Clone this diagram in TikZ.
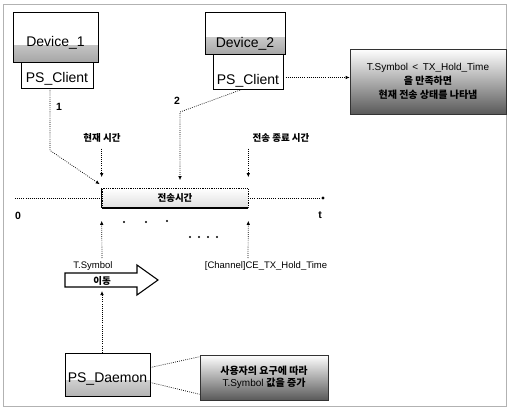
\documentclass[tikz,border=0pt]{standalone}
\usepackage{fontspec}
\setmainfont{Liberation Sans}
\newfontfamily\cjk{Noto Sans CJK KR}
\usetikzlibrary{arrows.meta,calc}
\begin{document}
\begin{tikzpicture}[x=1pt,y=-1pt,
  box/.style={draw=black,line width=0.8pt,fill=white,inner sep=0pt,
    font=\fontsize{14}{16}\selectfont,text depth=0pt},
  botshade/.style={path picture={\shade[top color=white,bottom color=#1]
    ([yshift=16pt]path picture bounding box.south west) rectangle (path picture bounding box.south east);}},
  noteshade/.style={path picture={\shade[top color=white,bottom color=black!65]
    (path picture bounding box.north west) rectangle (path picture bounding box.south east);}},
  notebox/.style={draw=black!80,line width=0.6pt,fill=white,align=center,inner sep=0pt},
  conn/.style={line width=0.7pt,dash pattern=on 0.8pt off 1.3pt,-{Latex[length=4pt,width=3.5pt]}},
  dline/.style={line width=0.7pt,dash pattern=on 0.8pt off 1.3pt},
  lbl/.style={inner sep=0pt,font=\fontsize{9.5}{11}\selectfont},
  num/.style={inner sep=0pt,font=\fontsize{10.5}{12}\selectfont\bfseries},
  krl/.style={inner sep=0pt,font=\fontsize{9.5}{11}\selectfont\cjk\bfseries}]
\useasboundingbox (0,0) rectangle (509,409);
\draw[gray!60,line width=0.8pt] (3,4) rectangle (506,406);

% devices
\node[box,botshade=gray!70,minimum width=85pt,minimum height=50pt,text height=20pt] (dev1) at (55.5,37) {Device\_1};
\node[box,minimum width=72pt,minimum height=26pt,text height=16pt] (pc1) at (57,75) {PS\_Client};
\node[box,botshade=gray!70,minimum width=80pt,minimum height=42pt,text height=30pt] (dev2) at (245,33) {Device\_2};
\node[box,minimum width=70pt,minimum height=35pt,text height=27pt] (pc2) at (248,71.5) {PS\_Client};

% note 1
\node[notebox,noteshade,minimum width=156pt,minimum height=65pt,font=\fontsize{10}{14}\selectfont] (note1) at (428,81.5)
  {T.Symbol \,<\, TX\_Hold\_Time\\{\cjk\bfseries 을 만족하면}\\{\cjk\bfseries 현재 전송 상태를 나타냄}};
\draw[conn] ([yshift=-6pt]pc2.east) -- ([yshift=-6pt]pc2.east -| note1.west);

% timeline
\coordinate (tl0) at (15,198);
\coordinate (tl1) at (323,198);
\draw[dline] (tl0) -- (tl1);
\fill (tl1) circle (1.6pt);
\node[draw=black,dash pattern=on 0.8pt off 1pt,line width=0.6pt,top color=white,bottom color=gray!25,
  minimum width=146pt,minimum height=19pt,inner sep=0pt,
  font=\fontsize{9.5}{11}\selectfont\cjk\bfseries] (tbox) at (175,198) {전송시간};
\draw[line width=1.6pt] (tbox.south west) -- (tbox.south east);
\draw[line width=0.9pt] (tbox.north west) -- (tbox.south west);

\node[num] (l0) at (18,216) {0};
\node[num] (lt) at (320,215) {t};

\node[krl] (cur) at (102,138) {현재 시간};
\node[krl] (fin) at (281,138) {전송 종료 시간};
\draw[conn] (tbox.north west |- cur.south) ++(0,6) -- ([yshift=11pt]tbox.north west);
\draw[conn] (tbox.north east |- fin.south) ++(0,6) -- ([yshift=11pt]tbox.north east);

% arrow 1
\node[num] (n1) at (59,107) {1};
\draw[conn] ([xshift=-7pt]pc1.south) -- ++(0,62) -- ([xshift=-2pt,yshift=4pt]tbox.north west);
% arrow 2
\node[num] (n2) at (177,101) {2};
\coordinate (b2) at (180,112);
\draw[conn] ([xshift=-6pt]pc2.south) -- (b2) -- ([yshift=8pt]b2 |- tbox.north);

% below timeline
\coordinate (u1) at (102,258);
\coordinate (u2) at (248,258);
\draw[conn] (u1) -- ([yshift=-13pt]tbox.south west);
\draw[conn] (u2) -- ([yshift=-13pt]tbox.south east);
\foreach \xx/\yy in {124/222,146/222,167/221,190/237,199/237,208/237,217/237}
  \fill (\xx,\yy) circle (1.1pt);

\node[lbl] (ts) at (93,266) {T.Symbol};
\node[lbl] (ce) at (266,266) {[Channel]CE\_TX\_Hold\_Time};

% move arrow
\draw[line width=1.1pt,fill=white] (65,273) -- (137,273) -- (137,265) -- (158,280) -- (137,295) -- (137,287) -- (65,287) -- cycle;
\node[krl] (mv) at (102,280.5) {이동};

% daemon
\node[box,botshade=gray!60,minimum width=85pt,minimum height=43pt,text height=15pt] (dmn) at (107.5,374.5) {PS\_Daemon};
\coordinate (mvb) at (102,291);
\draw[conn] (dmn.north -| mvb) -- (mvb);

% note 2
\node[notebox,noteshade,minimum width=128pt,minimum height=45pt,font=\fontsize{10}{12}\selectfont] (note2) at (264,377.5)
  {{\cjk\bfseries 사용자의 요구에 따라}\\T.Symbol {\cjk\bfseries 값을 증가}};
\draw[dline] ([yshift=7pt]dmn.east) -- ([yshift=-2pt]note2.north west);
\draw[dline] ([yshift=-8pt]dmn.east) -- ([yshift=6pt]note2.south west);
\end{tikzpicture}
\end{document}
